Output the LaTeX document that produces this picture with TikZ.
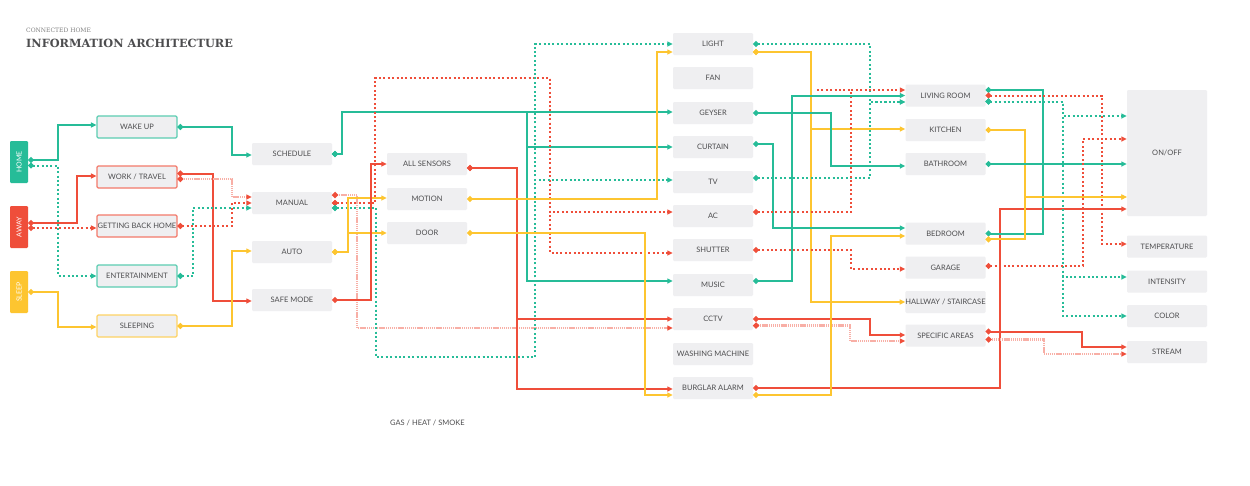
\documentclass[tikz,border=0pt]{standalone}
\usepackage{fontspec}
\usetikzlibrary{arrows.meta}
\newfontfamily\lato{Lato}
\newfontfamily\serifhead{DejaVu Serif}
\definecolor{gr}{HTML}{26BC98}
\definecolor{rd}{HTML}{EF4E3A}
\definecolor{yl}{HTML}{FDC530}
\definecolor{boxfill}{HTML}{EFEFF1}
\definecolor{txt}{HTML}{4D4D4F}

\begin{document}
\begin{tikzpicture}[x=1pt,y=-1pt,
  box/.style={fill=boxfill, minimum width=80pt, minimum height=22pt, inner sep=0pt,
    rounded corners=1.2pt, text=txt, font=\lato\fontsize{7.5}{8}\selectfont},
  obox/.style={box, draw=#1!75, line width=1.2pt},
  tab/.style={fill=#1, minimum width=18pt, minimum height=42pt, inner sep=0pt,
    rounded corners=1.2pt, text=white, font=\lato\fontsize{7}{8}\selectfont},
  link/.style={line width=2pt, {Circle[length=5.6pt]}-{Triangle[length=5.5pt,width=5pt]}},
  twoend/.style={line width=2pt, {Circle[length=5.6pt]}-{Circle[length=5.6pt]}},
  dots/.style={dash pattern=on 2pt off 2.4pt},
  gs/.style={link, draw=gr}, ys/.style={link, draw=yl}, rs/.style={link, draw=rd},
  gd/.style={gs, dots}, rdd/.style={rs, dots},
  rf/.style={line width=2.2pt, draw=rd!45, dash pattern=on 1.2pt off 0.7pt,
    {Circle[length=5.6pt,color=rd]}-{Triangle[length=5.5pt,width=5pt,color=rd]}},
]
\useasboundingbox[fill=white] (0,0) rectangle (1250,485);

% heading
\node[anchor=base west, inner sep=0pt, font=\serifhead\fontsize{6}{7}\selectfont, text=gray] (kicker) at (26,32) {CONNECTED HOME};
\node[anchor=base west, inner sep=0pt, font=\serifhead\bfseries\fontsize{11.3}{13}\selectfont, text=txt] (title) at (26,47) {INFORMATION ARCHITECTURE};

% modes
\node[tab=gr] (home)  at (19,162) {\rotatebox{90}{HOME}};
\node[tab=rd] (away)  at (19,227) {\rotatebox{90}{AWAY}};
\node[tab=yl] (sleep) at (19,292) {\rotatebox{90}{SLEEP}};

% scenarios
\node[obox=gr] (wakeup)   at (137,127) {WAKE UP};
\node[obox=rd] (work)     at (137,177) {WORK / TRAVEL};
\node[obox=rd] (gbh)      at (137,226) {GETTING BACK HOME};
\node[obox=gr] (ent)      at (137,276) {ENTERTAINMENT};
\node[obox=yl] (sleeping) at (137,326) {SLEEPING};

% control
\node[box] (schedule) at (292,154) {SCHEDULE};
\node[box] (manual)   at (292,203) {MANUAL};
\node[box] (auto)     at (292,252) {AUTO};
\node[box] (safemode) at (292,300) {SAFE MODE};

% sensors
\node[box] (allsensors) at (427,164) {ALL SENSORS};
\node[box] (motion)     at (427,199) {MOTION};
\node[box] (door)       at (427,233) {DOOR};
\node[anchor=west, inner sep=0pt, text=txt, font=\lato\fontsize{7.5}{8}\selectfont] (gas) at (390,423) {GAS / HEAT / SMOKE};

% devices
\node[box] (light)   at (713,44)  {LIGHT};
\node[box] (fan)     at (713,78)  {FAN};
\node[box] (geyser)  at (713,113) {GEYSER};
\node[box] (curtain) at (713,147) {CURTAIN};
\node[box] (tv)      at (713,182) {TV};
\node[box] (ac)      at (713,216) {AC};
\node[box] (shutter) at (713,250) {SHUTTER};
\node[box] (music)   at (713,285) {MUSIC};
\node[box] (cctv)    at (713,319) {CCTV};
\node[box] (wm)      at (713,354) {WASHING MACHINE};
\node[box] (ba)      at (713,388) {BURGLAR ALARM};

% rooms
\node[box] (living)   at (945.5,95.5)  {LIVING ROOM};
\node[box] (kitchen)  at (945.5,130)   {KITCHEN};
\node[box] (bathroom) at (945.5,164)   {BATHROOM};
\node[box] (bedroom)  at (945.5,233.5) {BEDROOM};
\node[box] (garage)   at (945.5,267.5) {GARAGE};
\node[box] (hallway)  at (945.5,302)   {HALLWAY / STAIRCASE};
\node[box] (spec)     at (945.5,335.5) {SPECIFIC AREAS};

% functions
\node[box, minimum height=126pt] (onoff) at (1167,153) {ON/OFF};
\node[box] (temp)      at (1167,246.5) {TEMPERATURE};
\node[box] (intensity) at (1167,281.5) {INTENSITY};
\node[box] (color)     at (1167,316)   {COLOR};
\node[box] (stream)    at (1167,352)   {STREAM};

% modes -> scenarios
\draw[gs]  ([yshift=2pt]home.east) -| (58,125) -- ([yshift=2pt]wakeup.west);
\draw[gd]  ([yshift=-3.5pt]home.east) -| (58,276) -- (ent.west);
\draw[rs]  ([yshift=4pt]away.east) -| (77,176) -- ([yshift=1pt]work.west);
\draw[rdd] ([yshift=-1pt]away.east) -- ([yshift=-2pt]gbh.west);
\draw[ys]  (sleep.east) -| (58,327) -- ([yshift=-1pt]sleeping.west);

% scenarios -> control
\draw[gs]  (wakeup.east) -| (232,155) -- ([yshift=-1pt]schedule.west);
\draw[rs]  ([yshift=3.5pt]work.east) -| (213,301) -- ([yshift=-1pt]safemode.west);
\draw[rf]  ([yshift=-2pt]work.east) -| (232,197) -- ([yshift=6pt]manual.west);
\draw[rdd] (gbh.east) -| (232,203) -- (manual.west);
\draw[gd]  (ent.east) -| (193,208) -- ([yshift=-5pt]manual.west);
\draw[ys]  (sleeping.east) -| (232,251) -- ([yshift=1pt]auto.west);

% control -> sensors / devices
\draw[gs]  (schedule.east) -| (342,112) -- ([yshift=1pt]geyser.west);
\draw[gs]  (schedule.east) -| (342,112) -| (527,147) -- (curtain.west);
\draw[gs]  (schedule.east) -| (342,112) -| (527,281) -- ([yshift=4pt]music.west);
\draw[rf]  ([yshift=8pt]manual.east) -| (357,328) -- ([yshift=-9pt]cctv.west);
\draw[rdd] (manual.east) -| (375,78) -| (550,212) -- ([yshift=4pt]ac.west);
\draw[rdd] (manual.east) -| (375,78) -| (550,253) -- ([yshift=-3pt]shutter.west);
\draw[gd]  ([yshift=-5pt]manual.east) -| (376,357) -| (535,44) -- (light.west);
\draw[gd]  ([yshift=-5pt]manual.east) -| (376,357) -| (535,180) -- ([yshift=2pt]tv.west);
\draw[ys]  (auto.east) -| (348,198) -- ([yshift=1pt]motion.west);
\draw[ys]  (auto.east) -| (348,233) -- (door.west);
\draw[rs]  (safemode.east) -| (371,164) -- (allsensors.west);

% sensors -> devices
\draw[rs]  ([yshift=-4pt]allsensors.east) -| (517,319) -- (cctv.west);
\draw[rs]  ([yshift=-4pt]allsensors.east) -| (517,389) -- ([yshift=-1pt]ba.west);
\draw[ys]  (motion.east) -| (657,52) -- ([yshift=-8pt]light.west);
\draw[ys]  (door.east) -| (645,395) -- ([yshift=-7pt]ba.west);

% devices -> rooms
\draw[gd]  (light.east) -| (870,102) -- ([yshift=-6.5pt]living.west);
\draw[ys]  ([yshift=-8pt]light.east) -| (811,129) -- ([yshift=1pt]kitchen.west);
\draw[ys]  ([yshift=-8pt]light.east) -| (811,302) -- (hallway.west);
\draw[gs]  (geyser.east) -| (831,166) -- ([yshift=-2pt]bathroom.west);
\draw[gs]  ([yshift=3pt]curtain.east) -| (773,228) -- ([yshift=5.5pt]bedroom.west);
\draw[gd]  ([yshift=4pt]tv.east) -| (870,102) -- ([yshift=-6.5pt]living.west);
\coordinate (acstub) at (817,90);
\draw[rd, line width=2pt, dots] (acstub) -- (851,90);
\draw[rdd] ([yshift=4pt]ac.east) -| (851,90) -- ([yshift=5.5pt]living.west);
\draw[rdd] (shutter.east) -| (851,269) -- ([yshift=-1.5pt]garage.west);
\draw[gs]  ([yshift=4pt]music.east) -| (792,95.5) -- (living.west);
\draw[rs]  (cctv.east) -| (870,335) -- ([yshift=0.5pt]spec.west);
\draw[rf]  ([yshift=-6.5pt]cctv.east) -| (850,341) -- ([yshift=-5.5pt]spec.west);
\draw[rs]  (ba.east) -| (1000,209) -- ([yshift=-56pt]onoff.west);
\draw[ys]  ([yshift=-7pt]ba.east) -| (831,236) -- ([yshift=-2.5pt]bedroom.west);

% rooms -> functions
\draw[gs, twoend] ([yshift=5.5pt]living.east) -| (1043,233.5) -- (bedroom.east);
\draw[rdd] (living.east) -| (1102,244) -- ([yshift=2.5pt]temp.west);
\draw[gd]  ([yshift=-6pt]living.east) -| (1063,116) -- ([yshift=37pt]onoff.west);
\draw[gd]  ([yshift=-6pt]living.east) -| (1063,277) -- ([yshift=4.5pt]intensity.west);
\draw[gd]  ([yshift=-6pt]living.east) -| (1063,316) -- (color.west);
\draw[ys]  (kitchen.east) -| (1025,197) -- ([yshift=-44pt]onoff.west);
\draw[ys]  ([yshift=-5.8pt]bedroom.east) -| (1025,197) -- ([yshift=-44pt]onoff.west);
\draw[gs]  (bathroom.east) -- ([yshift=-11pt]onoff.west);
\draw[rdd] ([yshift=1.5pt]garage.east) -| (1083,139) -- ([yshift=14pt]onoff.west);
\draw[rs]  ([yshift=4pt]spec.east) -| (1082,347) -- ([yshift=5pt]stream.west);
\draw[rf]  ([yshift=-4pt]spec.east) -| (1044,354) -- ([yshift=-2pt]stream.west);
\end{tikzpicture}
\end{document}
